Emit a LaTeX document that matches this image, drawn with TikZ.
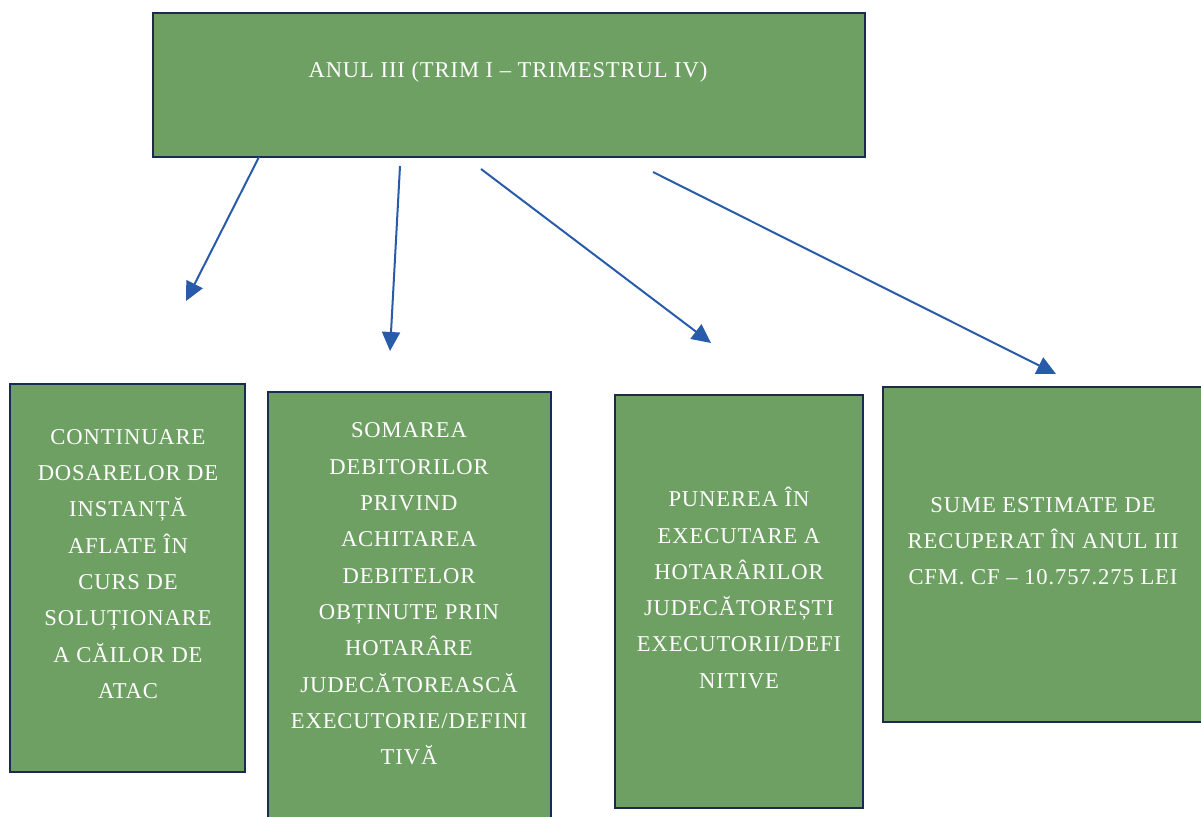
\documentclass[tikz,border=0pt]{standalone}
\usepackage{fontspec}
\setmainfont{Liberation Serif}[LetterSpace=4]
\usetikzlibrary{arrows.meta}
\definecolor{boxgreen}{RGB}{111,160,99}
\definecolor{boxedge}{RGB}{28,42,80}
\definecolor{arrowblue}{RGB}{40,92,170}
\tikzset{
  gbox/.style={draw=boxedge, line width=2.5pt, fill=boxgreen},
  gtxt/.style={text=white, align=center, inner sep=0pt, font=\fontsize{22.6}{36.3}\selectfont},
  conn/.style={draw=arrowblue, line width=2pt, -{Triangle[length=19pt,width=18pt]}}
}
\begin{document}
\begin{tikzpicture}[x=1pt,y=-1pt]
\useasboundingbox (0,0) rectangle (1201,816);
% boxes
\draw[gbox] (153,13) rectangle (865,157);
\node[gtxt] (top) at (508,72) {ANUL III (TRIM I – TRIMESTRUL IV)};
\draw[gbox] (10,384) rectangle (245,772);
\node[gtxt] (t1) at (128,564) {CONTINUARE\\DOSARELOR DE\\INSTANȚĂ\\AFLATE ÎN\\CURS DE\\SOLUȚIONARE\\A CĂILOR DE\\ATAC};
\draw[gbox] (268,392) rectangle (551,818);
\node[gtxt] (t2) at (409,594) {SOMAREA\\DEBITORILOR\\PRIVIND\\ACHITAREA\\DEBITELOR\\OBȚINUTE PRIN\\HOTARÂRE\\JUDECĂTOREASCĂ\\EXECUTORIE/DEFINI\\TIVĂ};
\draw[gbox] (615,395) rectangle (863,808);
\node[gtxt] (t3) at (739,588) {PUNEREA ÎN\\EXECUTARE A\\HOTARÂRILOR\\JUDECĂTOREȘTI\\EXECUTORII/DEFI\\NITIVE};
\draw[gbox] (883,387) rectangle (1203,722);
\node[gtxt] (t4) at (1043,541) {SUME ESTIMATE DE\\RECUPERAT ÎN ANUL III\\CFM. CF – 10.757.275 LEI};
% connector ends
\coordinate (s1) at (259,157);
\coordinate (s2) at (400,166);
\coordinate (s3) at (481,169);
\coordinate (s4) at (653,172);
\coordinate (e1) at (186,301);
\coordinate (e2) at (390,351);
\coordinate (e3) at (711,343);
\coordinate (e4) at (1056,374);
\draw[conn] (s1) -- (e1);
\draw[conn] (s2) -- (e2);
\draw[conn] (s3) -- (e3);
\draw[conn] (s4) -- (e4);
\end{tikzpicture}
\end{document}
